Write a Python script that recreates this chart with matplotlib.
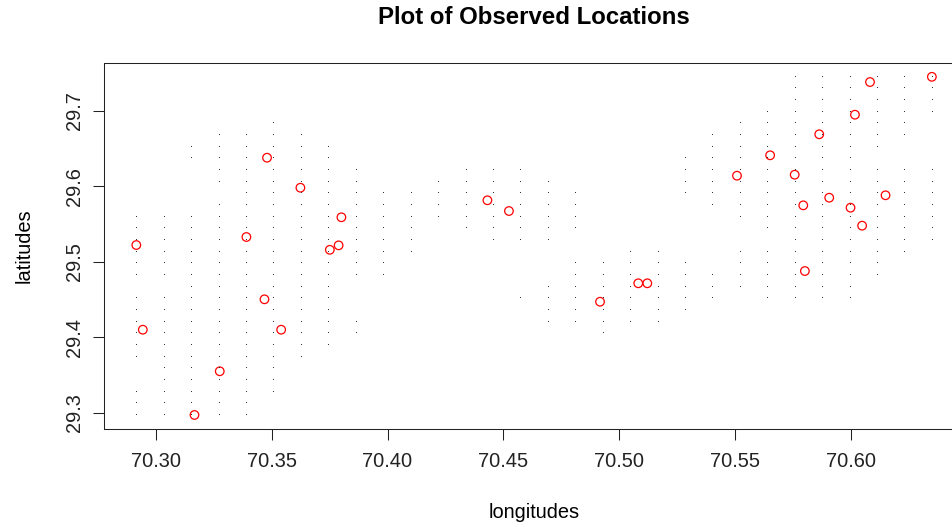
import numpy as np
import matplotlib
matplotlib.use('Agg')
import matplotlib.pyplot as plt

plt.rcParams['font.family'] = ['Liberation Sans', 'DejaVu Sans']

# observed locations
obs_lon = [70.3480, 70.3624, 70.3801, 70.3391, 70.2916, 70.3751, 70.3789,
           70.3469, 70.2944, 70.3541, 70.3276, 70.3167,
           70.4431, 70.4524, 70.5082, 70.5121, 70.4917,
           70.6349, 70.6082, 70.6017, 70.5863, 70.5651, 70.5508, 70.5757,
           70.6149, 70.5906, 70.5794, 70.5998, 70.6048, 70.5801]
obs_lat = [29.6377, 29.5980, 29.5589, 29.5328, 29.5222, 29.5159, 29.5218,
           29.4504, 29.4102, 29.4102, 29.3552, 29.2974,
           29.5814, 29.5672, 29.4716, 29.4716, 29.4472,
           29.7447, 29.7378, 29.6946, 29.6687, 29.6409, 29.6139, 29.6152,
           29.5880, 29.5848, 29.5747, 29.5716, 29.5478, 29.4878]

# prediction grid: 30 x 30 over the range of the observations,
# only some cells kept. row index (0 = bottom) -> runs of column indices
N_GRID = 30
grid_runs = {
    29: [(24, 29)],
    28: [(24, 29)],
    27: [(24, 29)],
    26: [(23, 29)],
    25: [(5, 5), (22, 28)],
    24: [(3, 6), (21, 28)],
    23: [(2, 7), (21, 27)],
    22: [(2, 7), (20, 26)],
    21: [(3, 8), (12, 14), (20, 29)],
    20: [(3, 8), (11, 15), (20, 29)],
    19: [(4, 16), (20, 29)],
    18: [(3, 16), (21, 29)],
    17: [(0, 16), (22, 29)],
    16: [(0, 10), (12, 16), (23, 29)],
    15: [(0, 10), (13, 15), (24, 29)],
    14: [(0, 10), (18, 19), (22, 28)],
    13: [(0, 9), (16, 20), (22, 27)],
    12: [(0, 9), (16, 27)],
    11: [(2, 7), (15, 26)],
    10: [(0, 7), (14, 21), (23, 26)],
    9: [(0, 7), (15, 20)],
    8: [(0, 8), (15, 19)],
    7: [(0, 8), (17, 17)],
    6: [(0, 7)],
    5: [(0, 6)],
    4: [(1, 5)],
    3: [(1, 5)],
    2: [(0, 5)],
    1: [(0, 4)],
    0: [(0, 4)],
}

x_ticks = [70.30, 70.35, 70.40, 70.45, 70.50, 70.55, 70.60]
y_ticks = [29.3, 29.4, 29.5, 29.6, 29.7]

lon = np.array(obs_lon)
lat = np.array(obs_lat)
grid_lon = np.linspace(lon.min(), lon.max(), N_GRID)
grid_lat = np.linspace(lat.min(), lat.max(), N_GRID)

gx, gy = [], []
for row, runs in grid_runs.items():
    for a, b in runs:
        for col in range(a, b + 1):
            gx.append(grid_lon[col])
            gy.append(grid_lat[row])

W, H = 953, 527
fig = plt.figure(figsize=(W / 100, H / 100), dpi=100)
ax = fig.add_axes([104.5 / W, 1 - 428.5 / H, (963.7 - 104.5) / W, (428.5 - 63.3) / H])

ax.plot(gx, gy, ',', color='#333333', linestyle='none')
ax.scatter(lon, lat, marker='o', s=38, facecolors='none', edgecolors='red', linewidths=0.9)

# R style 4% axis extension
dx = (lon.max() - lon.min()) * 0.04
dy = (lat.max() - lat.min()) * 0.04
ax.set_xlim(lon.min() - dx, lon.max() + dx)
ax.set_ylim(lat.min() - dy, lat.max() + dy)

ax.set_xticks(x_ticks)
ax.set_xticklabels(['%.2f' % v for v in x_ticks])
ax.set_yticks(y_ticks)
ax.set_yticklabels(['%.1f' % v for v in y_ticks], rotation=90, va='center')
ax.tick_params(length=7.9, width=0.75, labelsize=14.4, colors='#222222')
ax.tick_params(axis='x', pad=9)
ax.tick_params(axis='y', pad=7)
for sp in ax.spines.values():
    sp.set_linewidth(0.75)
    sp.set_color('#222222')

fig.text(534 / W, 1 - 18 / H, 'Plot of Observed Locations', ha='center', va='center',
         fontsize=17.3, fontweight='bold')
fig.text(534 / W, 1 - 513 / H, 'longitudes', ha='center', va='center', fontsize=14.4)
fig.text(24 / W, 1 - 246 / H, 'latitudes', ha='center', va='center', fontsize=14.4,
         rotation=90)

fig.savefig('out.png', dpi=100)
